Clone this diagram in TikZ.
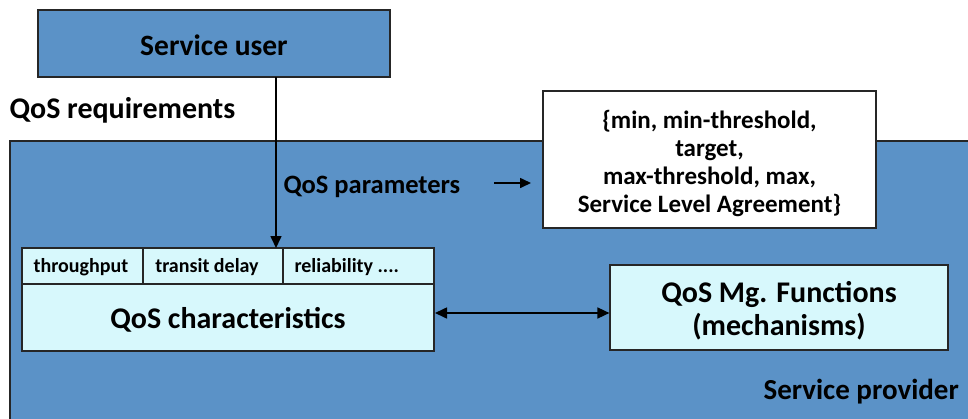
\documentclass[tikz,border=0pt]{standalone}
\usepackage{fontspec}
\setmainfont{Carlito}
\usetikzlibrary{arrows.meta}
\definecolor{provblue}{HTML}{5B92C7}
\definecolor{lightcyan}{HTML}{D7F8FC}
\begin{document}
\begin{tikzpicture}[x=1pt,y=-1pt,
  every node/.style={font=\bfseries},
  bluebox/.style={draw=black!85,line width=1.2pt,fill=provblue},
  cyanbox/.style={draw=black!85,line width=1.2pt,fill=lightcyan},
  whitebox/.style={draw=black!85,line width=1.2pt,fill=white},
  conn/.style={line width=1.6pt,-{Triangle[length=12pt,width=11pt]}},
  dconn/.style={line width=1.6pt,{Triangle[length=12pt,width=11pt]}-{Triangle[length=12pt,width=11pt]}}]
\useasboundingbox (0,0) rectangle (968,418);
\begin{scope}
\clip (0,0) rectangle (968,418);
% provider area
\draw[bluebox] (10,141) rectangle (990,440);
\node[anchor=west,font=\bfseries\fontsize{29}{32}\selectfont] (sp) at (760,392) {Service provider};
\end{scope}
% service user
\draw[bluebox] (38,10) rectangle (390,77);
\node[font=\bfseries\fontsize{29.5}{32}\selectfont] (su) at (214,45) {Service user};
\coordinate (suB) at (276,77);
\node[anchor=west,font=\bfseries\fontsize{30}{32}\selectfont] (req) at (6,110) {QoS requirements};
\node[anchor=west,font=\bfseries\fontsize{26.5}{30}\selectfont] (par) at (280,187) {QoS parameters};
% white box
\node[whitebox,minimum width=333pt,minimum height=137pt,inner sep=0pt] (vals) at (709.5,159.5) {};
\node[align=center,inner sep=0pt,font=\bfseries\fontsize{25}{28}\selectfont] (valstext)
  at ([yshift=-4pt]vals.center)
 {\{min, min-threshold,\\ target,\\ max-threshold, max,\\ Service Level Agreement\}};
\coordinate (pa) at (494,183);
\draw[line width=1.6pt,-{Triangle[length=11pt,width=10pt]}] (pa) -- (531,183);
% characteristics
\draw[cyanbox] (22,248) rectangle (434,351);
\draw[black!85,line width=1.2pt] (22,284) -- (434,284) (143,248) -- (143,284) (283,248) -- (283,284);
\node[font=\bfseries\fontsize{20}{22}\selectfont] (tp) at (81,267) {throughput};
\node[font=\bfseries\fontsize{20}{22}\selectfont] (td) at (207,267) {transit delay};
\node[anchor=west,font=\bfseries\fontsize{20}{22}\selectfont] (rel) at (291,267) {reliability ....};
\node[font=\bfseries\fontsize{30}{33}\selectfont] (qc) at (228,320) {QoS characteristics};
\coordinate (ctop) at (276,248);
\draw[conn] (suB) -- (ctop);
% mg functions
\node[cyanbox,minimum width=338pt,minimum height=85pt,inner sep=0pt] (mg) at (779,307.5) {};
\node[align=center,inner sep=0pt,font=\bfseries\fontsize{30}{33}\selectfont] (mgtext)
  at ([yshift=-3pt]mg.center) {QoS Mg. Functions\\ (mechanisms)};
\coordinate (cR) at (435,313);
\draw[dconn] (cR) -- (mg.west |- cR);
\end{tikzpicture}
\end{document}
